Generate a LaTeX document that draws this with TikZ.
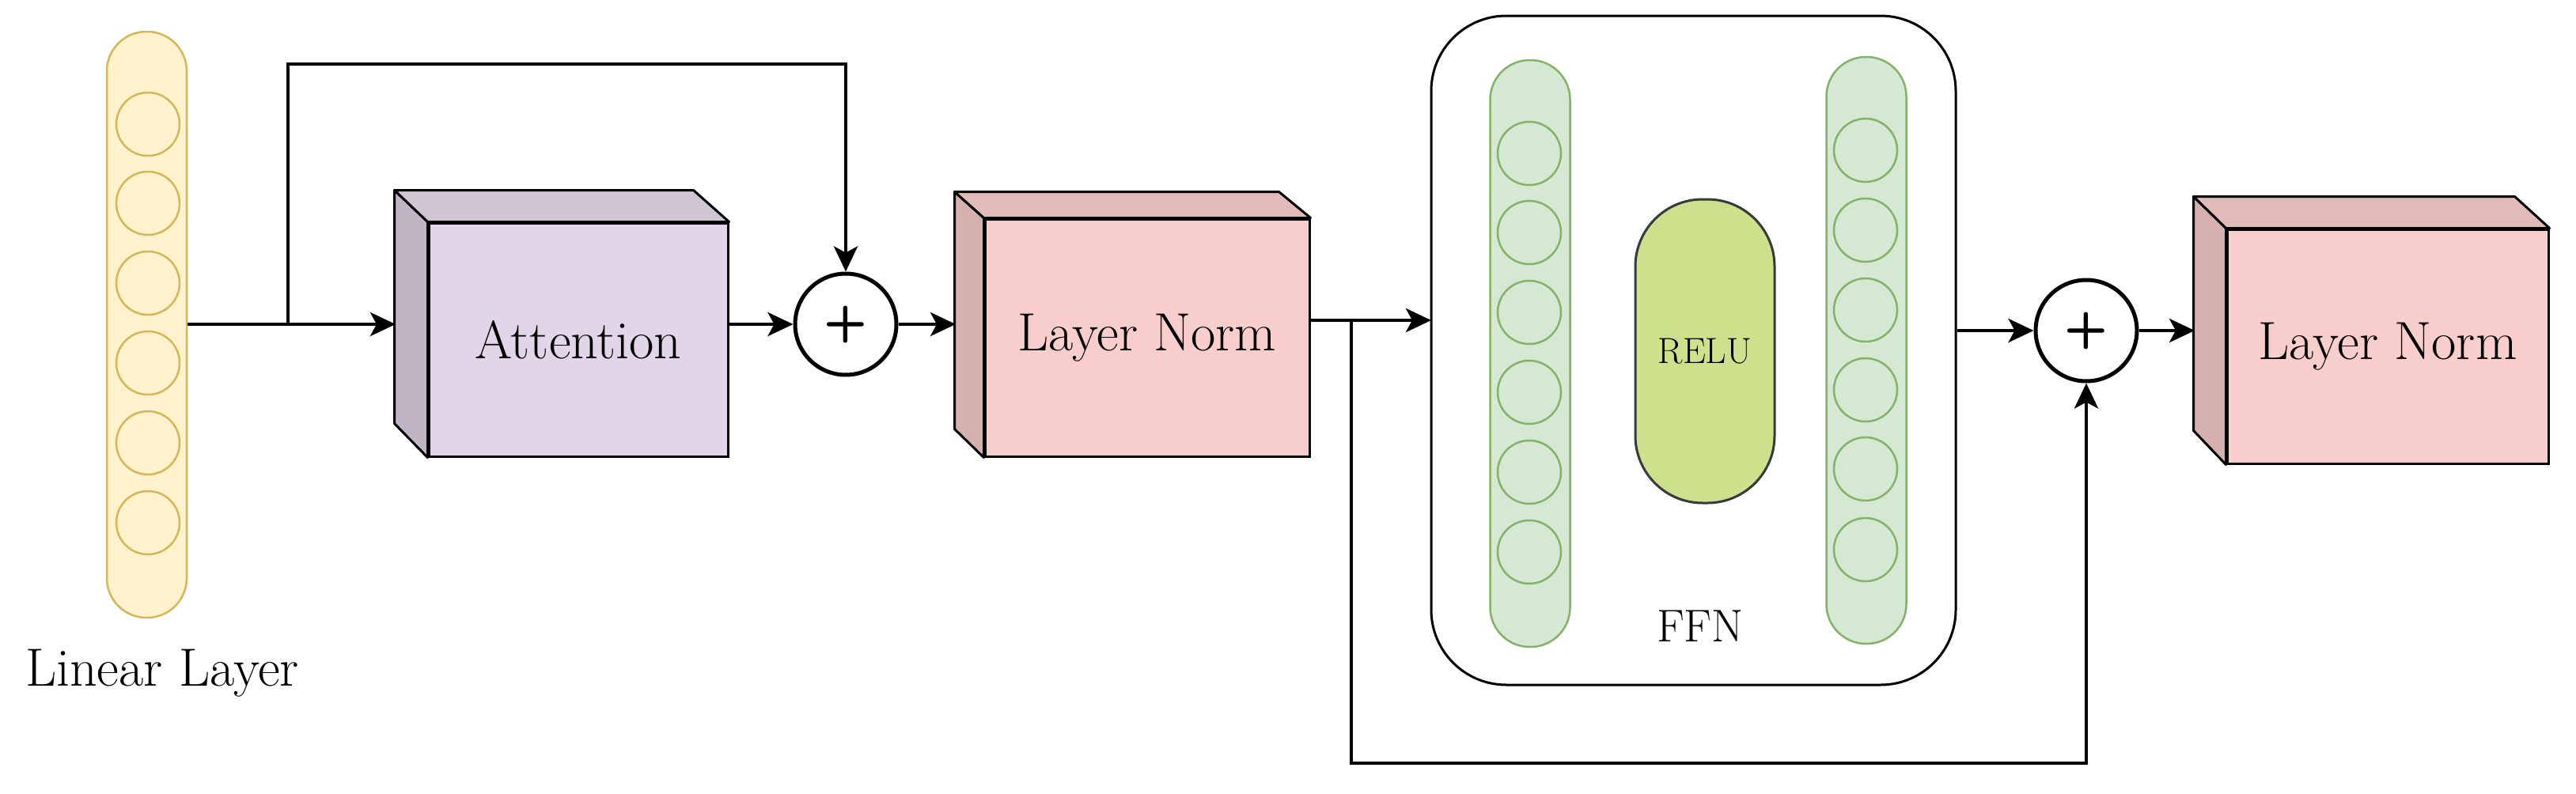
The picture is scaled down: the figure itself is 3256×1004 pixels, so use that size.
\documentclass[tikz,border=0pt]{standalone}
\usetikzlibrary{arrows.meta}
\definecolor{linF}{HTML}{FFF2CC}\definecolor{linD}{HTML}{D6B656}
\definecolor{grF}{HTML}{D5E8D4}\definecolor{grD}{HTML}{82B366}
\definecolor{reF}{HTML}{CDE08B}\definecolor{reD}{HTML}{36393D}
\definecolor{attF}{HTML}{E1D5E7}\definecolor{attS}{HTML}{C0B5C5}\definecolor{attT}{HTML}{D0C5D3}
\definecolor{lnF}{HTML}{F8CECC}\definecolor{lnS}{HTML}{D4B0AF}\definecolor{lnT}{HTML}{E1BBBA}
\begin{document}
\begin{tikzpicture}[x=1pt,y=-1pt,
  big/.style={font=\fontsize{68}{80}\selectfont},
  col/.style={rounded corners=50pt,minimum width=101pt,line width=2.5pt,inner sep=0},
  neur/.style={circle,minimum size=80pt,inner sep=0,line width=2.5pt},
  face/.style={draw=black,line width=3pt,inner sep=0},
  plus/.style={circle,draw=black,line width=5pt,minimum size=128pt,inner sep=0,font=\sffamily\bfseries\fontsize{64}{64}\selectfont},
  arr/.style={line width=4.5pt,-{Stealth[length=32pt,width=30pt,inset=8pt]}},
  ln/.style={line width=4.5pt}]
\useasboundingbox (0,0) rectangle (3256,1004);
% linear layer
\node[col,draw=linD,fill=linF,minimum height=741pt] (lin) at (185.5,410.5) {};
\foreach \i/\y in {1/157,2/257,3/358,4/459,5/560,6/661}
  \node[neur,draw=linD,fill=linF] (l\i) at (187,\y) {};
\node[big] (linlab) at (205,851) {Linear Layer};
% attention cube
\node[face,fill=attF,minimum width=378pt,minimum height=295pt,big] (att) at (731,429.5) {Attention};
\draw[fill=attS,line width=3pt,line join=round] (att.south west) -- (att.north west) -- ++(-42,-40) -- ++(0,295) -- cycle;
\draw[fill=attT,line width=3pt,line join=round] (att.north west) -- ++(-42,-40) -- ++(378,0) -- (att.north east) -- cycle;
\coordinate (attin) at (500,410);
% plus 1
\node[plus] (p1) at (1069,410) {+};
% layer norm 1
\node[face,fill=lnF,minimum width=410pt,minimum height=300pt,big] (ln1) at (1450,427) {Layer Norm};
\draw[fill=lnS,line width=3pt,line join=round] (ln1.south west) -- (ln1.north west) -- ++(-37,-33) -- ++(0,300) -- cycle;
\draw[fill=lnT,line width=3pt,line join=round] (ln1.north west) -- ++(-37,-33) -- ++(410,0) -- (ln1.north east) -- cycle;
\coordinate (ln1in) at (1208,410);
% FFN
\node[draw=black,line width=3pt,rounded corners=95pt,minimum width=663pt,minimum height=846pt,inner sep=0] (ffn) at (2140.5,443) {};
\node[col,draw=grD,fill=grF,minimum height=742pt] (c1) at (1934,447) {};
\node[col,draw=grD,fill=grF,minimum height=742pt] (c2) at (2359,443) {};
\foreach \i/\y in {1/194,2/294,3/395,4/496,5/597,6/698}
  \node[neur,draw=grD,fill=grF] (a\i) at (1933,\y) {};
\foreach \i/\y in {1/190,2/291,3/392,4/493,5/593,6/695}
  \node[neur,draw=grD,fill=grF] (b\i) at (2358,\y) {};
\node[draw=reD,fill=reF,line width=3pt,rounded corners=85pt,minimum width=176pt,minimum height=384pt,inner sep=0,font=\fontsize{46}{50}\selectfont] (relu) at (2155,444) {RELU};
\node[font=\fontsize{58}{60}\selectfont] (ffnlab) at (2149,792) {FFN};
\coordinate (ffnin) at (1809,405);
\coordinate (br2) at (1708,405);
\coordinate (bot) at (1708,965);
% plus 2
\node[plus] (p2) at (2637,418) {+};
% layer norm 2
\node[face,fill=lnF,minimum width=406pt,minimum height=296pt,big] (ln2) at (3018,438) {Layer Norm};
\draw[fill=lnS,line width=3pt,line join=round] (ln2.south west) -- (ln2.north west) -- ++(-41,-40) -- ++(0,296) -- cycle;
\draw[fill=lnT,line width=3pt,line join=round] (ln2.north west) -- ++(-41,-40) -- ++(406,0) -- (ln2.north east) -- cycle;
\coordinate (ln2in) at (2774,418);
% connectors
\coordinate (br1) at (364,410);
\coordinate (top1) at (364,81);
\draw[arr] (lin.east |- attin) -- (attin);
\draw[arr,line join=miter] (br1) -- (top1) -| (p1.north);
\draw[arr] (att.east |- p1.west) -- (p1.west);
\draw[arr] (p1.east) -- (ln1in);
\draw[arr] (ln1.east |- ffnin) -- (ffnin);
\draw[arr,line join=miter] (br2) -- (bot) -| (p2.south);
\draw[arr] (ffn.east |- p2.west) -- (p2.west);
\draw[arr] (p2.east) -- (ln2in);
\end{tikzpicture}
\end{document}
